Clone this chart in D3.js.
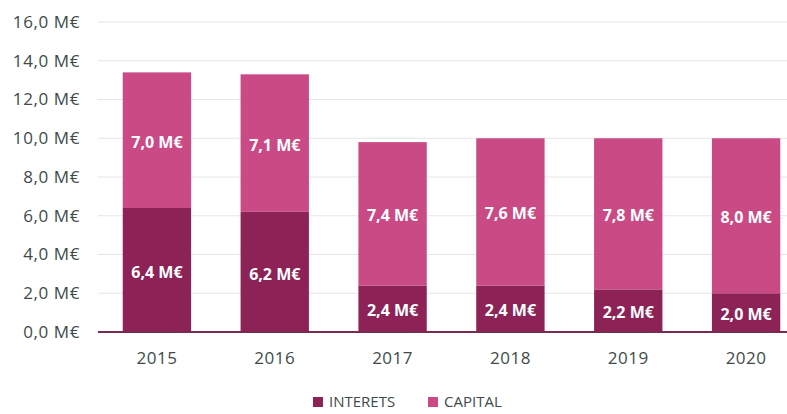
<!DOCTYPE html>
<html>
<head>
<meta charset="utf-8">
<script src="https://cdn.jsdelivr.net/npm/d3@7"></script>
<style>
	body { margin: 0; background: #fff; }
	svg { display: block; font-family: "Open Sans", sans-serif; }
</style>
</head>
<body>
<div class="plot"></div>
<script>
// Data
const years = ['2015', '2016', '2017', '2018', '2019', '2020'];
const interets = [6.4, 6.2, 2.4, 2.4, 2.2, 2.0];
const capital = [7.0, 7.1, 7.4, 7.6, 7.8, 8.0];
const yTicks = [0, 2, 4, 6, 8, 10, 12, 14, 16];
const seriesNames = ['INTERETS', 'CAPITAL'];
const colors = ['#8c2256', '#c94a84'];

const w = 787, h = 414;
const margin = {top: 22, right: -18, bottom: 82, left: 98};

const svg = d3.select('.plot').append('svg')
	.attr('width', w)
	.attr('height', h);

const x = d3.scaleBand()
	.domain(years)
	.range([margin.left, w - margin.right])
	.paddingInner(0.42)
	.paddingOuter(0.21);

const y = d3.scaleLinear()
	.domain([0, 16])
	.range([h - margin.bottom, margin.top]);

const fmt = v => v.toFixed(1).replace('.', ',') + ' M€';

// Gridlines + y labels
svg.append('g')
	.selectAll('line')
	.data(yTicks.filter(d => d > 0))
	.join('line')
	.attr('x1', margin.left)
	.attr('x2', w)
	.attr('y1', d => y(d))
	.attr('y2', d => y(d))
	.attr('stroke', '#e6e6e6')
	.attr('stroke-width', 1);

svg.append('g')
	.selectAll('text')
	.data(yTicks)
	.join('text')
	.attr('x', margin.left - 18)
	.attr('y', d => y(d))
	.attr('dy', '0.35em')
	.attr('text-anchor', 'end')
	.attr('font-size', 17)
	.attr('letter-spacing', 0.6)
	.attr('fill', '#3f4a48')
	.text(fmt);

// Stacked bars
const table = years.map((yr, i) => ({year: yr, INTERETS: interets[i], CAPITAL: capital[i]}));
const stacked = d3.stack().keys(seriesNames)(table);

const layers = svg.append('g')
	.selectAll('g')
	.data(stacked)
	.join('g')
	.attr('fill', (d, i) => colors[i]);

layers.selectAll('rect')
	.data(d => d)
	.join('rect')
	.attr('x', d => x(d.data.year))
	.attr('width', x.bandwidth())
	.attr('y', d => y(d[1]))
	.attr('height', d => y(d[0]) - y(d[1]));

layers.selectAll('text')
	.data(d => d.map(p => ({p, key: d.key})))
	.join('text')
	.attr('x', d => x(d.p.data.year) + x.bandwidth() / 2)
	.attr('y', d => (y(d.p[0]) + y(d.p[1])) / 2 + 2)
	.attr('dy', '0.35em')
	.attr('text-anchor', 'middle')
	.attr('font-size', 16)
	.attr('font-weight', 'bold')
	.attr('fill', '#fff')
	.text(d => fmt(d.p.data[d.key]));

// Baseline
svg.append('line')
	.attr('x1', margin.left)
	.attr('x2', w)
	.attr('y1', y(0))
	.attr('y2', y(0))
	.attr('stroke', '#7a2a4e')
	.attr('stroke-width', 2);

// x labels
svg.append('g')
	.selectAll('text')
	.data(years)
	.join('text')
	.attr('x', d => x(d) + x.bandwidth() / 2)
	.attr('y', y(0) + 32)
	.attr('text-anchor', 'middle')
	.attr('font-size', 17)
	.attr('letter-spacing', 0.5)
	.attr('fill', '#3f4a48')
	.text(d => d);

// Legend
const legend = svg.append('g')
	.selectAll('g')
	.data(seriesNames)
	.join('g')
	.attr('transform', (d, i) => `translate(${[313, 428][i]}, 402)`);

legend.append('rect')
	.attr('x', 0)
	.attr('y', -5)
	.attr('width', 10)
	.attr('height', 10)
	.attr('fill', (d, i) => colors[i]);

legend.append('text')
	.attr('x', 16)
	.attr('dy', '0.35em')
	.attr('font-size', 15)
	.attr('fill', '#3f4a48')
	.text(d => d);
</script>
</body>
</html>
